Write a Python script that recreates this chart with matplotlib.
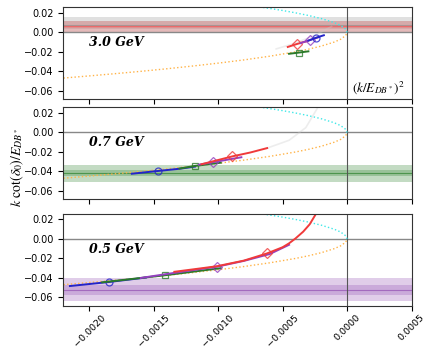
import matplotlib
matplotlib.use("Agg")
import matplotlib.pyplot as plt

plt.rcParams['mathtext.fontset'] = 'stix'

# unitarity bounds  +/- sqrt(-k^2)
bound_x = [-0.0022, -0.0020, -0.0018, -0.0016, -0.0014, -0.0012, -0.0010, -0.0008,
           -0.0006, -0.0004, -0.0003, -0.0002, -0.0001, -0.00005, -0.00001, 0.0]
bound_low = [-0.0469, -0.0447, -0.0424, -0.0400, -0.0374, -0.0346, -0.0316, -0.0283,
             -0.0245, -0.0200, -0.0173, -0.0141, -0.0100, -0.0071, -0.0032, 0.0]
cyan_x = [-0.00068, -0.0006, -0.0005, -0.0004, -0.0003, -0.0002, -0.0001, -0.00005, -0.00001, 0.0]
cyan_y = [0.0261, 0.0245, 0.0224, 0.0200, 0.0173, 0.0141, 0.0100, 0.0071, 0.0032, 0.0]

labels = ['3.0 GeV', '0.7 GeV', '0.5 GeV']

# panel 1 (3.0 GeV)
p1_red_x = [-0.00046, -0.00039, -0.00031]
p1_red_y = [-0.0150, -0.0120, -0.0090]
p1_pur_x = [-0.00036, -0.00029, -0.00022]
p1_pur_y = [-0.0110, -0.0080, -0.0050]
p1_blu_x = [-0.00030, -0.00024, -0.00018]
p1_blu_y = [-0.0085, -0.0055, -0.0030]
p1_grn_x = [-0.00045, -0.000375, -0.00030]
p1_grn_y = [-0.0220, -0.0208, -0.0195]
p1_gry_x = [-0.00055, -0.0004, -0.00025, -0.00012]
p1_gry_y = [-0.017, -0.011, -0.003, 0.006]

# panel 2 (0.7 GeV)
p2_blu_x = [-0.00167, -0.00147, -0.00130, -0.00118]
p2_blu_y = [-0.0423, -0.0395, -0.0372, -0.0350]
p2_grn_x = [-0.00130, -0.00118, -0.00098]
p2_grn_y = [-0.0370, -0.0343, -0.0310]
p2_pur_x = [-0.00115, -0.00104, -0.00082]
p2_pur_y = [-0.0330, -0.0305, -0.0254]
p2_red_x = [-0.00113, -0.00089, -0.00075, -0.00062]
p2_red_y = [-0.0326, -0.0245, -0.0205, -0.0160]
p2_gry_x = [-0.00062, -0.00045, -0.00032, -0.00023]
p2_gry_y = [-0.016, -0.008, 0.005, 0.025]

# panel 3 (0.5 GeV)
p3_blu_x = [-0.00215, -0.00185, -0.00156]
p3_blu_y = [-0.0483, -0.0442, -0.0396]
p3_grn_x = [-0.0019, -0.00141, -0.00098]
p3_grn_y = [-0.0445, -0.0372, -0.0300]
p3_pur_x = [-0.0016, -0.0013, -0.00101, -0.0008, -0.0006, -0.00045]
p3_pur_y = [-0.0400, -0.0340, -0.0285, -0.0225, -0.0155, -0.0060]
p3_red_x = [-0.00134, -0.0012, -0.00101, -0.0008, -0.00062, -0.0005,
            -0.00045, -0.0004, -0.00034, -0.00029, -0.00024]
p3_red_y = [-0.0337, -0.0313, -0.0280, -0.0222, -0.0148, -0.0085,
            -0.0045, 0.0005, 0.0075, 0.0150, 0.0260]

# marker per colour (blue o, green s, purple D, red D)
mk = {'blue': 'o', 'green': 's', 'purple': 'D', 'red': 'D'}
cols = {'blue': '#2424c8', 'green': '#2a7a2a', 'purple': '#9440c0', 'red': '#f03a3a'}

# bands: (center, inner half width, outer half width, colour)
bands = [
    [(0.0075, 0.004, 0.0085, '#999999'), (0.006, 0.002, 0.0055, '#f06060')],
    [(-0.0419, 0.003, 0.0088, '#3a8a3a')],
    [(-0.052, 0.005, 0.0118, '#9a5ab8')],
]

curves = [
    [('red', p1_red_x, p1_red_y, 1), ('purple', p1_pur_x, p1_pur_y, 1),
     ('blue', p1_blu_x, p1_blu_y, 1), ('green', p1_grn_x, p1_grn_y, 1)],
    [('blue', p2_blu_x, p2_blu_y, 1), ('green', p2_grn_x, p2_grn_y, 1),
     ('purple', p2_pur_x, p2_pur_y, 1), ('red', p2_red_x, p2_red_y, 1)],
    [('blue', p3_blu_x, p3_blu_y, 1), ('green', p3_grn_x, p3_grn_y, 1),
     ('purple', p3_pur_x, p3_pur_y, 2), ('red', p3_red_x, p3_red_y, 4)],
]
grays = [(p1_gry_x, p1_gry_y), (p2_gry_x, p2_gry_y), None]

fig = plt.figure(figsize=(4.26, 3.49), dpi=100)
L, W, H = 0.149, 0.817, 0.264
bottoms = [0.716, 0.429, 0.124]

for i in range(3):
    ax = fig.add_axes([L, bottoms[i], W, H])
    ax.set_xlim(-0.0022, 0.0005)
    ax.set_ylim(-0.0685, 0.026)
    for c, inner, outer, col in bands[i]:
        ax.axhspan(c - outer, c + outer, color=col, alpha=0.3, lw=0)
        ax.axhspan(c - inner, c + inner, color=col, alpha=0.3, lw=0)
        ax.axhline(c, color=col, lw=0.8, alpha=0.8)
    ax.axhline(0, color='#888888', lw=1.0)
    ax.axvline(0, color='#555555', lw=0.8)
    ax.plot(bound_x, bound_low, ':', color='#ffb347', lw=1.0)
    ax.plot(cyan_x, cyan_y, ':', color='#40e8e8', lw=1.0)
    if grays[i] is not None:
        ax.plot(grays[i][0], grays[i][1], color='#cccccc', lw=1.2, alpha=0.35)
    for name, xs, ys, j in curves[i]:
        ax.plot(xs, ys, '-', color=cols[name], lw=1.4)
        ax.plot(xs[j], ys[j], mk[name], mfc='none', mec=cols[name], ms=5, mew=0.9, alpha=0.8)
    ax.text(-0.00200, -0.0105, labels[i], fontsize=9, family='serif',
            weight='bold', style='italic', va='center')
    ax.set_yticks([0.02, 0.00, -0.02, -0.04, -0.06])
    ax.set_yticklabels(['0.02', '0.00', '\u22120.02', '\u22120.04', '\u22120.06'])
    ax.set_xticks([-0.0020, -0.0015, -0.0010, -0.0005, 0.0, 0.0005])
    ax.tick_params(labelsize=7, length=3.5, width=0.8)
    for s in ax.spines.values():
        s.set_color('#333333')
        s.set_linewidth(0.8)
    if i < 2:
        ax.set_xticklabels([])
    else:
        ax.set_xticklabels(['\u22120.0020', '\u22120.0015', '\u22120.0010',
                            '\u22120.0005', '0.0000', '0.0005'], rotation=45, fontsize=6.8)
        ax.tick_params(axis='x', pad=1.5)
    if i == 0:
        ax.text(0.828, 0.13, r'$(k/E_{DB^*})^2$', transform=ax.transAxes,
                fontsize=9.5, va='center')

fig.text(0.04, 0.52, r'$k\ \cot(\delta_0)/E_{DB^*}$', rotation=90,
         fontsize=10, va='center', ha='center')

fig.savefig('out.png', dpi=100)
